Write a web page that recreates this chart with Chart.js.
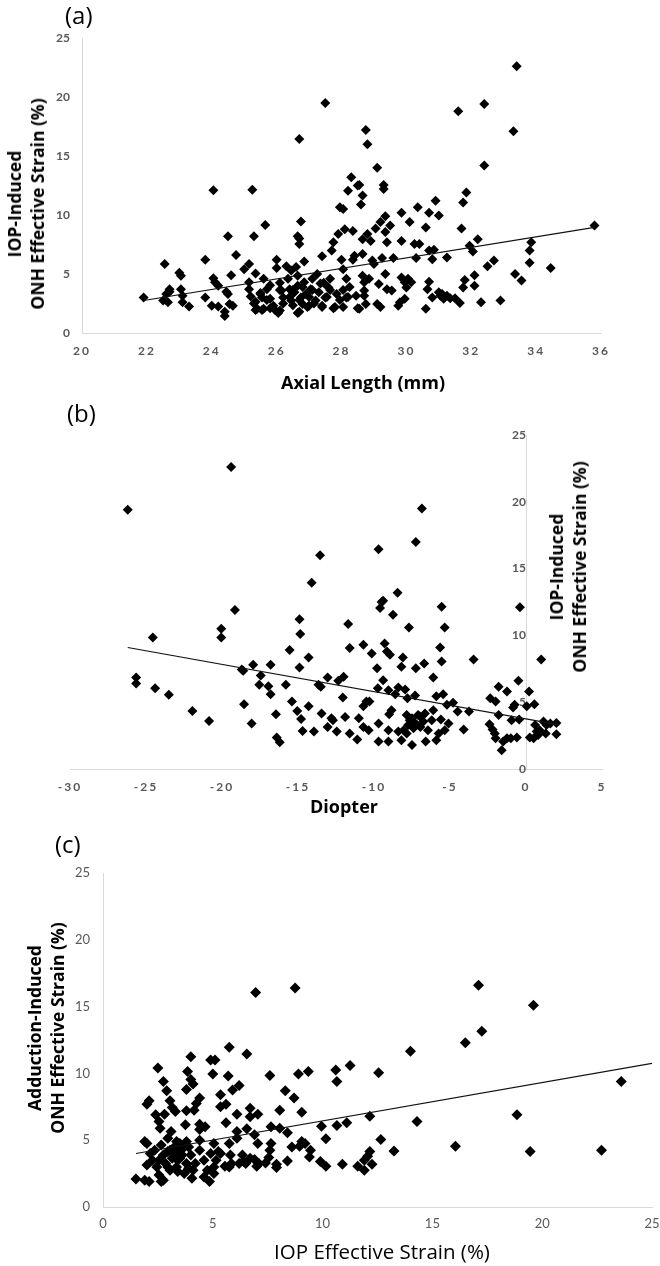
<!DOCTYPE html>
<html><head><meta charset="utf-8">
<script src="https://cdn.jsdelivr.net/npm/chart.js@4.4.1/dist/chart.umd.min.js"></script>
<style>
html,body{margin:0;padding:0;background:#fff}
body{width:660px;height:1266px;position:relative;overflow:hidden;font-family:'Open Sans',sans-serif;color:#000}
canvas{position:absolute;left:0}
.lbl{position:absolute;font-size:24px;line-height:24px;color:#000}
.yt{position:absolute;transform:translate(-50%,-50%) rotate(-90deg);white-space:nowrap;text-align:center;font-weight:700;font-size:17.5px;line-height:23px;color:#000}
.xt{position:absolute;transform:translate(-50%,-50%);white-space:nowrap;font-weight:700;font-size:18px;color:#000}
</style></head>
<body>
<canvas id="ca"></canvas>
<canvas id="cb"></canvas>
<canvas id="cc"></canvas>
<div class="lbl" style="left:65px;top:3px">(a)</div>
<div class="lbl" style="left:67px;top:401px">(b)</div>
<div class="lbl" style="left:55px;top:832px">(c)</div>
<div class="yt" style="left:25.5px;top:204px">IOP-Induced<br>ONH Effective Strain (%)</div>
<div class="yt" style="left:568px;top:567px">IOP-Induced<br>ONH Effective Strain (%)</div>
<div class="yt" style="left:46px;top:1028px">Adduction-Induced<br>ONH Effective Strain (%)</div>
<div class="xt" style="left:363px;top:382px">Axial Length (mm)</div>
<div class="xt" style="left:344px;top:806px">Diopter</div>
<div class="xt" style="left:382px;top:1251px;font-weight:400;font-size:20.5px">IOP Effective Strain (%)</div>
<script>
// ---------- Panel (a): axial length vs IOP-induced strain ----------
const axialLength = [
21.9,22.55,22.5,22.6,22.7,22.65,22.7,23.0,23.05,23.05,23.1,23.1,23.3,23.8,23.8,24.05,24.05,24.1,24.0,24.2,24.2,24.4,24.4,24.45,24.5,24.5,24.6,24.55,24.65,24.75,
25.0,25.15,25.15,25.15,25.2,25.25,25.3,25.35,25.35,25.4,25.5,25.55,25.6,25.6,25.65,25.7,25.8,25.8,25.9,25.95,
26.0,26.0,26.1,26.1,26.15,26.2,26.3,26.35,26.4,26.45,26.45,26.55,26.6,26.65,26.65,26.7,26.7,26.65,26.7,26.75,26.75,26.8,26.85,26.85,26.9,
27.0,27.05,27.1,27.2,27.25,27.3,27.4,27.4,27.45,27.5,27.6,27.65,27.7,27.75,27.8,27.85,27.9,27.95,
28.0,28.05,28.05,28.05,28.1,28.15,28.2,28.15,28.25,28.3,28.35,28.35,28.4,28.45,28.55,28.55,28.6,28.65,28.65,28.65,28.65,28.7,28.7,28.7,28.75,28.8,28.85,28.9,28.95,
29.0,29.05,29.1,29.15,29.2,29.2,29.25,29.3,29.3,29.35,29.35,29.35,29.4,29.4,29.5,29.55,29.6,29.75,29.8,29.85,29.85,29.85,29.95,29.95,
30.0,30.05,30.1,30.15,30.25,30.3,30.35,30.4,30.6,30.6,30.65,30.7,30.7,30.7,30.8,30.8,30.85,30.9,
31.0,31.0,31.05,31.1,31.15,31.25,31.25,31.35,31.5,31.65,31.7,31.75,31.75,31.8,31.85,31.95,
32.05,32.1,32.1,32.2,32.3,32.5,32.7,32.9,33.35,33.55,33.8,33.8,33.85,34.45,35.8,
27.5,26.7,33.4,32.4,31.6,33.3,32.4,28.75,28.8,29.1,28.5,
25.35,25.55,25.8,26.05,26.65,26.2,26.5,26.7,26.95,27.15,27.4,27.75,27.95,28.2,28.5,25.5,25.7,26.1,26.5,26.8,27.1,27.35,27.65,28.05,25.3,26.4,27.0,27.55];
const strainA = [
3.0,5.85,2.75,3.3,3.5,2.6,3.7,5.1,4.85,3.7,3.15,2.6,2.25,6.2,3.0,12.1,4.65,4.3,2.3,4.0,2.25,1.8,1.45,3.5,3.3,8.2,4.9,2.45,2.3,6.6,
5.4,5.85,4.3,3.7,3.1,12.15,8.2,5.05,2.65,2.05,3.3,3.0,4.6,2.05,9.15,3.7,4.05,2.9,2.3,1.95,
6.2,5.5,1.9,4.25,3.6,3.0,5.65,4.6,3.7,5.3,2.75,3.45,5.6,4.85,8.2,7.55,8.0,4.0,1.8,9.45,3.0,2.45,6.05,4.3,3.3,
2.3,3.7,4.6,2.75,5.0,3.45,6.5,2.3,4.25,3.0,3.85,4.6,7.0,7.7,2.2,3.3,8.4,10.65,
6.2,10.5,5.4,2.2,8.8,3.0,12.05,4.6,3.9,13.2,8.65,6.2,6.55,3.15,2.05,12.55,10.9,11.65,7.95,6.7,4.85,4.3,3.6,3.15,2.45,8.4,4.6,7.8,6.15,
5.85,8.85,2.45,4.15,2.2,9.4,6.35,12.55,12.2,9.9,8.55,5.0,3.7,7.7,9.1,3.6,6.35,2.3,2.6,10.2,7.8,4.7,4.3,2.9,
3.85,4.6,9.4,4.3,7.55,6.35,10.65,7.55,2.05,8.95,3.7,10.2,7.0,4.35,3.0,6.25,7.05,11.2,
9.95,3.45,3.15,3.3,2.9,6.4,3.15,2.95,2.95,2.55,8.85,11.05,3.85,4.5,11.9,7.4,
6.9,4.0,4.9,7.95,2.6,5.65,6.15,2.75,5.0,4.45,5.95,7.0,7.7,5.5,9.1,
19.5,16.45,22.6,19.4,18.8,17.1,14.2,17.2,16.0,14.0,12.5,
1.95,1.95,2.1,1.7,1.7,2.5,2.35,2.8,2.2,2.5,2.2,2.1,2.8,3.05,2.1,3.4,2.8,3.65,3.65,3.9,3.65,4.2,3.65,3.65,2.5,3.05,3.05,3.05];
const trendAx = [21.9, 35.8];
const trendAy = [2.75, 8.95];
const ticksAx = [20,22,24,26,28,30,32,34,36];
const ticksAy = [0,5,10,15,20,25];

// ---------- Panel (b): diopter vs IOP-induced strain ----------
const diopter = [
-26.2,-19.4,-24.55,-25.65,-25.65,-24.4,-23.5,-21.95,-20.85,-20.05,
-20.05,-19.15,-18.7,-18.6,-18.55,-18.05,-17.95,-17.45,-17.55,-16.95,
-16.8,-16.8,-16.45,-16.4,-16.2,-15.8,-15.55,-15.4,-15.05,-14.9,
-14.85,-14.9,-14.8,-14.7,-14.3,-14.3,-14.1,-13.95,-13.65,-13.55,
-13.5,-13.45,-13.05,-13.05,
-6.85,-7.25,-9.7,-8.45,-9.5,-9.4,-9.6,-8.75,-5.55,-0.4,
-11.7,-7.7,-5.35,-11.6,-10.7,-10.15,-9.3,-9.15,-8.95,-8.1,
-5.65,-5.55,-6.7,-7.25,-9.8,-8.2,-3.45,1.0,-6.1,-12.0,
-12.35,-9.4,-9.75,-9.05,-8.4,-7.95,-7.8,-8.6,-7.3,-5.9,
-5.45,-5.2,-4.8,-4.5,-3.75,-1.8,-2.35,-2.0,-1.25,-0.85,
-0.75,-0.5,0.05,0.2,0.55,-12.05,-12.8,-11.9,-10.7,-10.5,
-10.3,-10.35,-10.7,-9.7,-9.7,-9.05,-9.05,-9.0,-8.85,-8.4,
-8.2,-7.85,-7.5,-7.65,-7.2,-7.0,-6.75,-6.6,-6.45,-6.2,
-6.1,-5.9,-5.75,-5.6,-5.35,-5.1,-4.1,-11.1,-11.0,-12.7,
-12.45,-11.6,-2.4,-2.2,-2.05,-1.8,-2.0,-1.5,-1.6,-1.25,
-1.0,-0.6,-0.95,-0.45,0.25,0.5,0.7,0.6,0.9,1.15,
1.35,1.6,2.0,2.0,1.3,0.8,
-7.85,-7.5,-7.3,-6.95,-7.4,-7.1,-6.65,-7.75,-8.05];
const strainB = [
19.4,22.6,9.85,6.85,6.4,6.05,5.55,4.35,3.6,10.5,
9.85,11.9,7.45,7.35,4.85,3.4,7.8,7.0,6.3,6.2,
5.6,7.8,4.1,2.35,2.0,6.3,8.9,5.05,4.35,11.2,
10.1,7.6,3.75,2.85,8.35,4.7,13.95,2.8,6.3,16.0,
6.15,4.15,6.85,3.15,
19.5,17.0,16.45,13.2,12.5,12.6,12.05,11.55,12.15,12.1,
10.85,10.6,10.6,9.05,9.3,8.65,9.4,8.8,8.55,8.35,
9.1,8.05,7.9,7.55,7.55,7.65,8.2,8.2,6.85,6.9,
6.6,6.65,6.05,5.9,6.1,5.95,5.3,5.6,5.5,5.45,
5.6,4.8,4.95,4.3,4.3,6.15,5.3,5.05,5.8,4.6,
4.8,6.6,4.7,5.8,4.85,5.35,3.8,3.9,4.7,5.05,
5.05,2.9,3.15,3.4,2.05,2.05,2.9,4.1,4.4,2.8,
2.15,2.65,1.8,3.65,3.3,3.95,3.55,2.05,2.9,3.65,
4.4,2.15,2.65,3.7,2.9,3.4,2.95,2.2,3.8,3.65,
2.8,2.65,3.35,2.95,2.65,4.05,2.3,2.05,1.4,2.3,
2.3,2.35,3.65,3.7,2.35,2.3,2.8,3.3,2.9,3.55,
3.3,3.4,3.45,2.6,2.65,2.55,
4.05,3.8,3.45,3.15,3.05,4.05,4.15,3.3,2.9];
const trendBx = [-26.2, 2.2];
const trendBy = [9.1, 3.3];
const ticksBx = [-30,-25,-20,-15,-10,-5,0,5];
const ticksBy = [0,5,10,15,20,25];

// ---------- Panel (c): IOP strain vs adduction-induced strain ----------
const iopStrain = [
6.95,8.75,17.1,19.6,17.25,16.5,14.0,5.75,6.55,4.0,
4.9,5.1,2.5,3.85,5.0,5.7,7.6,8.9,9.35,10.6,
11.25,12.55,10.65,23.6,2.75,4.0,4.1,5.9,6.2,3.8,
2.9,8.3,8.7,9.05,5.35,4.4,4.25,2.1,2.0,3.05,
3.15,3.3,3.8,4.15,5.35,5.6,6.7,7.05,8.05,2.4,
2.8,6.1,12.15,18.85,2.55,2.6,4.4,4.4,4.65,5.6,
6.1,6.55,3.1,3.75,6.7,7.65,8.05,8.4,6.9,10.65,
11.1,14.3,9.95,10.15,12.65,16.05,13.25,19.45,22.7,12.15,
12.05,11.9,11.6,11.9,12.25,10.9,9.9,10.15,9.45,9.05,
9.2,8.95,8.6,8.4,7.9,7.9,7.55,7.4,7.65,7.6,
7.05,7.0,6.9,6.35,6.4,6.1,5.85,5.8,5.55,5.75,
5.25,5.05,4.9,4.85,4.75,5.05,4.6,4.4,4.1,4.05,
4.2,3.6,3.7,3.35,3.4,3.05,3.15,2.85,2.75,2.65,
2.55,2.45,2.25,2.15,2.0,2.1,1.9,1.5,1.9,2.0,
2.35,2.95,3.25,3.5,3.8,3.9,3.05,2.65,3.4,3.8,
4.0,4.4,4.6,5.05,5.15,5.35,5.75,6.2,6.5,6.7,
7.1,9.4,
2.75,2.95,3.25,3.5,3.65,3.35,2.95,3.4,3.9,2.55];
const adductionStrain = [
16.05,16.4,16.6,15.1,13.15,12.3,11.65,11.95,11.45,11.25,
11.0,11.0,10.4,10.15,9.95,9.8,9.85,9.95,10.15,10.25,
10.6,10.05,9.4,9.4,9.4,9.55,9.2,8.75,9.1,8.8,
8.7,8.7,8.15,7.1,8.4,8.15,7.75,7.95,7.7,7.95,
7.45,7.15,7.2,7.25,7.5,7.7,7.4,6.95,7.25,6.9,
6.95,6.95,6.8,6.9,6.4,5.9,6.2,5.8,6.0,6.3,
5.65,5.85,5.65,6.15,6.75,6.0,5.9,5.55,5.4,6.1,
6.3,6.4,6.05,5.1,5.05,4.55,4.2,4.15,4.25,4.15,
3.8,3.5,3.05,2.75,3.2,3.2,3.4,3.05,4.25,4.9,
4.75,4.55,4.5,3.45,2.95,3.2,3.7,3.3,4.75,4.25,
4.75,3.05,3.55,3.9,3.4,5.15,3.25,3.9,3.05,4.75,
4.15,4.75,4.0,1.9,2.75,3.0,3.5,4.25,2.75,2.15,
3.25,3.9,2.5,3.0,4.25,2.75,3.65,3.25,2.0,1.9,
2.4,3.0,3.5,4.0,3.15,1.9,2.0,2.1,4.9,4.75,
4.25,5.15,4.5,4.75,4.9,4.5,4.25,4.65,3.5,3.25,
3.9,5.0,2.25,2.5,3.5,4.0,3.0,3.25,3.25,3.65,
3.25,3.75,
3.9,4.15,4.0,3.65,4.4,4.9,3.0,2.65,2.9,3.5];
const trendCx = [1.5, 25];
const trendCy = [4.0, 10.75];
const ticksCx = [0,5,10,15,20,25];
const ticksCy = [0,5,10,15,20,25];

// ---------- helpers ----------
function spaced(s){
  if (s._sp) return;
  const orig = s.drawLabels;
  s.drawLabels = function(a){
    const c = this.ctx; const prev = c.letterSpacing;
    c.letterSpacing = '2px'; orig.call(this, a); c.letterSpacing = prev || '0px';
  };
  s._sp = true;
}
function axis(o){
  return {
    type:'linear', min:o.min, max:o.max, position:o.position,
    afterBuildTicks: s => { s.ticks = o.ticks.map(v => ({value:v})); },
    grid:{display:true, color:'rgba(0,0,0,0)', drawTicks:false},
    border:{display:true, color:'#d9d9d9', width:1},
    ticks:{color:'#595959', font:o.font, padding:o.pad, maxRotation:0, autoSkip:false},
    afterFit: s => {
      if (o.w !== undefined) s.width = o.w;
      if (o.h !== undefined) s.height = o.h;
      s.paddingLeft = 0; s.paddingRight = 0; s.paddingTop = 0; s.paddingBottom = 0;
      if (o.spaced) spaced(s);
    }
  };
}
function panel(id, top, height, xs, ys, tx, ty, pad, xAxis, yAxis, r){
  const cv = document.getElementById(id);
  cv.width = 660; cv.height = height; cv.style.top = top + 'px';
  const pts = xs.map((x,i) => ({x:x, y:ys[i]}));
  const line = tx.map((x,i) => ({x:x, y:ty[i]}));
  return new Chart(cv.getContext('2d'), {
    type:'scatter',
    data:{datasets:[
      {data:line, showLine:true, pointRadius:0, borderColor:'#111', borderWidth:1.1, fill:false, order:0},
      {data:pts, pointStyle:'rectRot', pointRadius:r, backgroundColor:'#000', borderWidth:0, order:1}
    ]},
    options:{
      responsive:false, animation:false, events:[], devicePixelRatio:1,
      layout:{padding:pad},
      plugins:{legend:{display:false}, tooltip:{enabled:false}},
      scales:{x:xAxis, y:yAxis}
    }
  });
}
const boldTick = {family:'Lato', weight:'bold', size:12};
const regTick = {family:'Lato', weight:'normal', size:13};

panel('ca', 0, 400, axialLength, strainA, trendAx, trendAy,
  {top:38, right:59, left:0, bottom:0},
  axis({min:20, max:36, ticks:ticksAx, position:'bottom', font:boldTick, pad:11, h:67, spaced:true}),
  axis({min:0, max:25, ticks:ticksAy, position:'left', font:boldTick, pad:12, w:82}), 5);

panel('cb', 400, 430, diopter, strainB, trendBx, trendBy,
  {top:35, right:58, left:70, bottom:0},
  axis({min:-30, max:5, ticks:ticksBx, position:'bottom', font:boldTick, pad:11, h:61, spaced:true}),
  axis({min:0, max:25, ticks:ticksBy, position:{x:0}, font:boldTick, pad:12}), 5);

panel('cc', 830, 436, iopStrain, adductionStrain, trendCx, trendCy,
  {top:43, right:8, left:0, bottom:0},
  axis({min:0, max:25, ticks:ticksCx, position:'bottom', font:regTick, pad:9, h:59}),
  axis({min:0, max:25, ticks:ticksCy, position:'left', font:regTick, pad:13, w:103}), 5.5);
</script>
</body></html>
